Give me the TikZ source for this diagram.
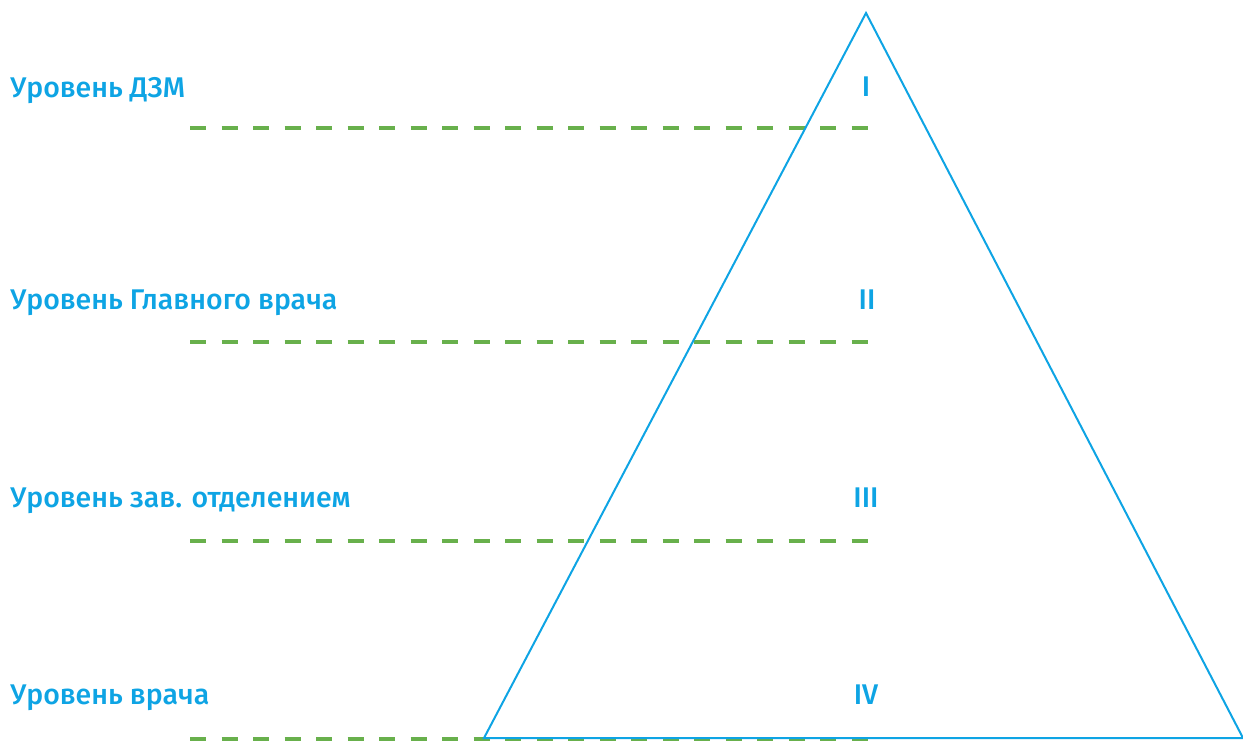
\documentclass[tikz,border=0pt]{standalone}
\usepackage{fontspec}
\setmainfont{Fira Sans}[UprightFont=* Medium]
\usepackage{tikz}
\usetikzlibrary{positioning}
\definecolor{lvlblue}{RGB}{14,164,228}
\definecolor{lvlgreen}{RGB}{104,176,76}
\tikzset{
  lvltxt/.style={
    anchor=base west, inner sep=0pt,
    font=\fontsize{16.2}{18}\selectfont, text=lvlblue
  },
  lvlnum/.style={
    anchor=base, inner sep=0pt,
    font=\fontsize{16.2}{18}\selectfont, text=lvlblue
  },
  sepline/.style={
    line width=0.08cm, lvlgreen,
    dash pattern=on 0.32cm off 0.31cm
  },
  pyr/.style={draw=lvlblue, line width=0.04cm, line join=miter},
}
\begin{document}
\begin{tikzpicture}
        \useasboundingbox (0,0) rectangle (24.86,14.80);
        % levels
        \node[lvltxt] (t1) at (0.20, 12.84) {Уровень ДЗМ};
        \node[lvltxt] (t2) at (0.20, 8.60)  {Уровень Главного врача};
        \node[lvltxt] (t3) at (0.20, 4.66)  {Уровень зав. отделением};
        \node[lvltxt] (t4) at (0.20, 0.72)  {Уровень врача};
        \node[lvlnum] (n1) at (17.32, 12.86) {I};
        \node[lvlnum] (n2) at (17.34, 8.60)  {II};
        \node[lvlnum] (n3) at (17.32, 4.66)  {III};
        \node[lvlnum] (n4) at (17.32, 0.72)  {IV};
        % separators
        \foreach \k/\yy in {1/12.24, 2/7.96, 3/3.98, 4/0.02}{
          \coordinate (s\k a) at (3.80, \yy);
          \coordinate (s\k b) at (17.36, \yy);
          \draw[sepline] (s\k a) -- (s\k b);
        }
        % pyramid
        \coordinate (top) at (17.32, 14.54);
        \coordinate (bl)  at (9.68, 0.04);
        \coordinate (br)  at (24.86, 0.04);
        \draw[pyr] (top) -- (bl) -- (br) -- cycle;
      \end{tikzpicture}
\end{document}
